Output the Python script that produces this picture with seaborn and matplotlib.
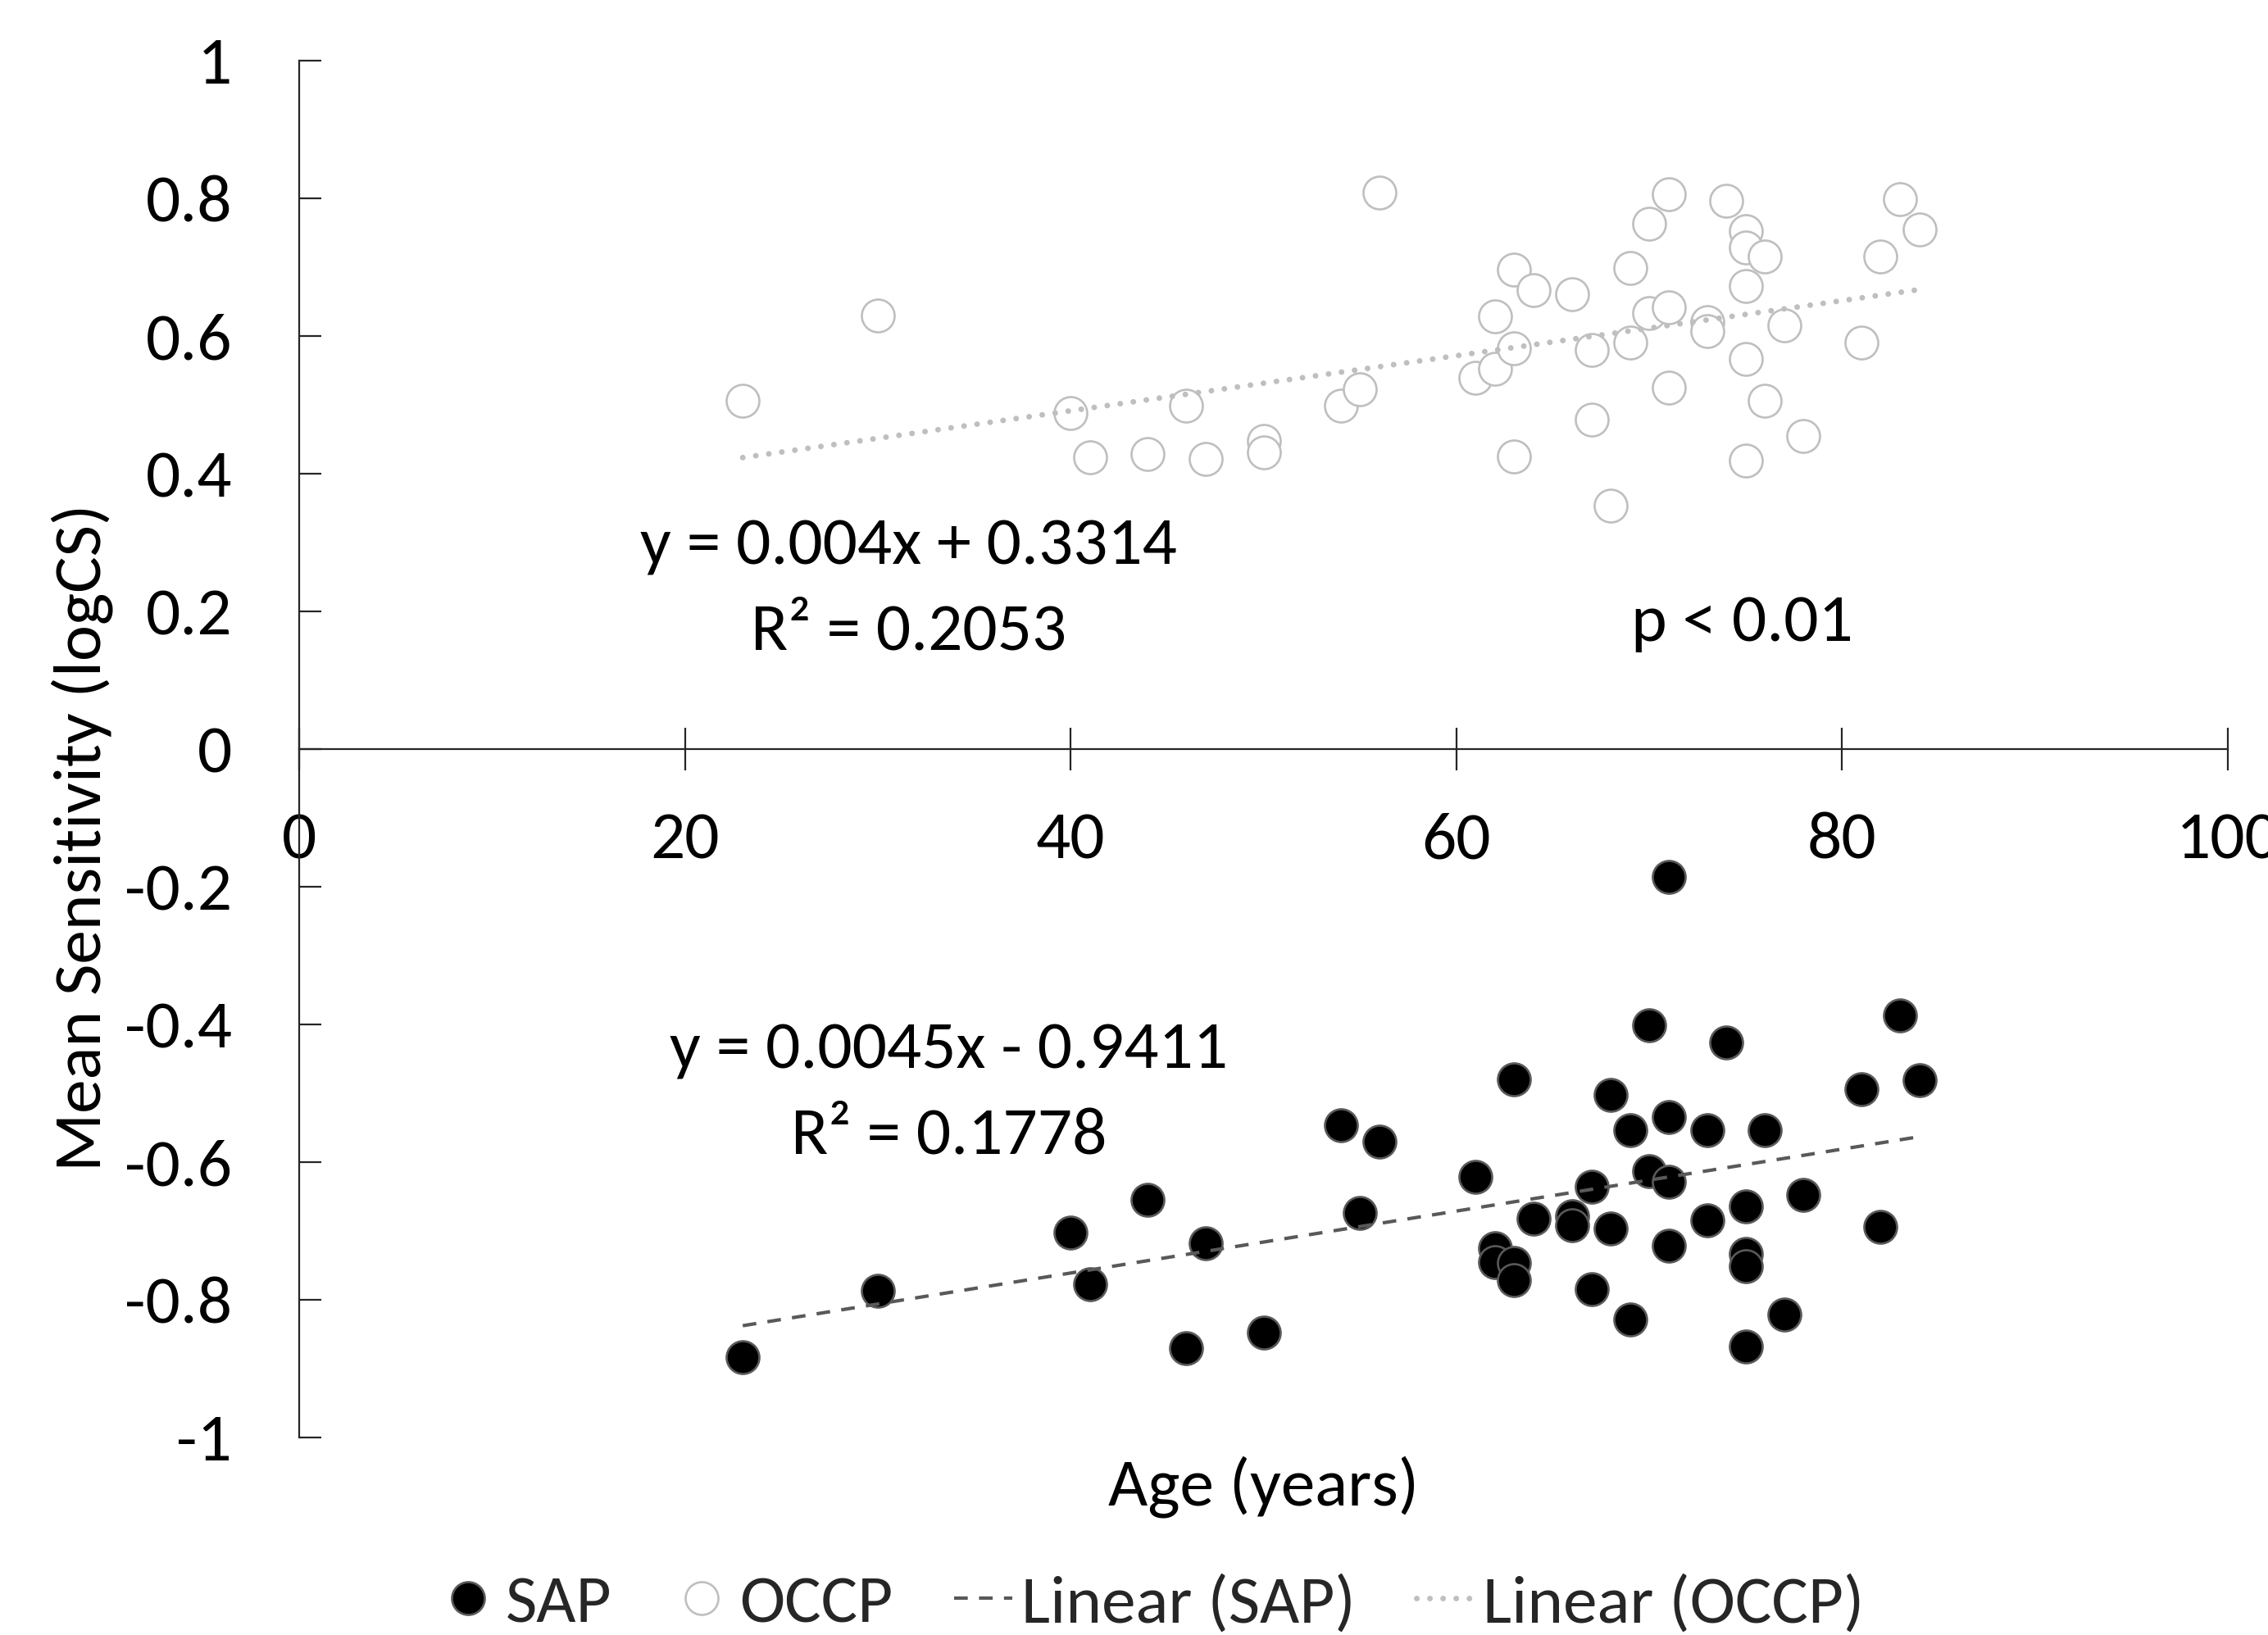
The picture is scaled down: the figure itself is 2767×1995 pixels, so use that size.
import numpy as np
import pandas as pd
import matplotlib
matplotlib.use("Agg")
import matplotlib.pyplot as plt
from matplotlib.lines import Line2D
from matplotlib import font_manager
import seaborn as sns

# ---------------- data ----------------
occp_age = [23, 30, 40, 41, 44, 46, 47, 50, 50, 54, 55, 56,
            61, 62, 62, 63, 63, 63, 64, 66, 67, 67, 68, 69, 69,
            70, 70, 71, 71, 71, 73, 73, 74, 75, 75, 75, 75, 75,
            76, 76, 77, 78, 81, 82, 83, 84]
occp_val = [0.506, 0.630, 0.488, 0.424, 0.429, 0.499, 0.421, 0.448, 0.431, 0.499, 0.523, 0.808,
            0.539, 0.628, 0.552, 0.696, 0.582, 0.425, 0.667, 0.661, 0.580, 0.478, 0.353, 0.699, 0.591,
            0.763, 0.633, 0.806, 0.642, 0.525, 0.620, 0.607, 0.796, 0.752, 0.729, 0.673, 0.567, 0.419,
            0.715, 0.506, 0.616, 0.455, 0.590, 0.715, 0.799, 0.755]

sap_age = [23, 30, 40, 41, 44, 46, 47, 50, 54, 55, 56,
           61, 62, 62, 63, 63, 63, 64, 66, 66, 67, 67, 68, 68, 69, 69,
           70, 70, 71, 71, 71, 71, 73, 73, 74, 75, 75, 75, 75,
           76, 77, 78, 81, 82, 83, 84]
sap_val = [-0.883, -0.787, -0.702, -0.777, -0.655, -0.870, -0.718, -0.848, -0.546, -0.674, -0.570,
           -0.622, -0.725, -0.745, -0.480, -0.747, -0.772, -0.682, -0.679, -0.692, -0.636, -0.784,
           -0.502, -0.696, -0.554, -0.829, -0.401, -0.613, -0.186, -0.534, -0.628, -0.722,
           -0.554, -0.685, -0.426, -0.664, -0.733, -0.751, -0.868,
           -0.554, -0.821, -0.648, -0.494, -0.694, -0.387, -0.481]

# trend line coefficients shown in the chart
occp_fit = [0.004, 0.3314]
sap_fit = [0.0045, -0.9411]
occp_eq = "y = 0.004x + 0.3314"
occp_r2 = "R\u00b2 = 0.2053"
sap_eq = "y = 0.0045x - 0.9411"
sap_r2 = "R\u00b2 = 0.1778"
p_text = "p < 0.01"

x_ticks = [0, 20, 40, 60, 80, 100]
y_ticks = [1, 0.8, 0.6, 0.4, 0.2, 0, -0.2, -0.4, -0.6, -0.8, -1]

series_names = ["SAP", "OCCP", "Linear (SAP)", "Linear (OCCP)"]

# ---------------- style ----------------
sns.set_theme(style="white")
names = {f.name for f in font_manager.fontManager.ttflist}
fam = "Carlito" if "Carlito" in names else "Lato"
plt.rcParams["font.family"] = [fam, "DejaVu Sans"]
plt.rcParams["axes.unicode_minus"] = False

FS = 60
DPI = 100
fig = plt.figure(figsize=(2767 / DPI, 1995 / DPI), dpi=DPI)
ax = fig.add_axes([365 / 2767, 241 / 1995, 2353 / 2767, 1680 / 1995])

df_occp = pd.DataFrame({"age": occp_age, "val": occp_val})
df_sap = pd.DataFrame({"age": sap_age, "val": sap_val})

MS = 28.8  # marker diameter in points
sns.scatterplot(data=df_occp, x="age", y="val", ax=ax, s=MS ** 2, marker="o",
                facecolor="white", edgecolor="#bfbfbf", linewidth=1.9, zorder=3, legend=False)
sns.scatterplot(data=df_sap, x="age", y="val", ax=ax, s=MS ** 2, marker="o",
                facecolor="black", edgecolor="#595959", linewidth=1.9, zorder=3, legend=False)

# trend lines
xo = np.array([min(occp_age), max(occp_age)])
xs = np.array([min(sap_age), max(sap_age)])
occp_line = pd.DataFrame({"age": xo, "val": np.polyval(occp_fit, xo)})
sap_line = pd.DataFrame({"age": xs, "val": np.polyval(sap_fit, xs)})

dot_style = dict(color="#bfbfbf", linewidth=5.0, dashes=(0.01, 2.3), dash_capstyle="round")
dash_style = dict(color="#595959", linewidth=3.0, dashes=(4.0, 3.3), dash_capstyle="butt")
sns.lineplot(data=occp_line, x="age", y="val", ax=ax, zorder=4, **dot_style)
sns.lineplot(data=sap_line, x="age", y="val", ax=ax, zorder=4, **dash_style)

# axes
ax.set_xlim(0, 100)
ax.set_ylim(-1, 1)
ax.spines["top"].set_visible(False)
ax.spines["right"].set_visible(False)
ax.spines["bottom"].set_position(("data", 0))
for sp in ("left", "bottom"):
    ax.spines[sp].set_color("#262626")
    ax.spines[sp].set_linewidth(1.6)
    ax.spines[sp].set_zorder(2)

ax.set_xticks(x_ticks)
ax.set_xticklabels([str(v) for v in x_ticks])
ax.set_yticks(y_ticks)
ax.set_yticklabels([f"{v:g}" for v in y_ticks])
ax.tick_params(axis="y", direction="in", length=19.5, width=1.6, color="#262626",
               pad=59, labelsize=FS, labelcolor="black", left=True)
ax.tick_params(axis="x", direction="inout", length=38, width=1.6, color="#262626",
               pad=36, labelsize=FS, labelcolor="black", bottom=True)

ax.set_xlabel("Age (years)", fontsize=FS, color="black")
ax.set_ylabel("Mean Sensitivity (logCS)", fontsize=FS, color="black")
ax.xaxis.set_label_coords(0.5, -0.0357)
ax.xaxis.label.set_va("center")
ax.yaxis.set_label_coords(-0.1126, 0.436)
ax.yaxis.label.set_va("center")
ax.yaxis.label.set_ha("center")

# annotations
ax.text(31.6, 0.269, occp_eq, fontsize=FS, ha="center", va="baseline", color="black")
ax.text(31.6, 0.145, occp_r2, fontsize=FS, ha="center", va="baseline", color="black")
ax.text(74.8, 0.157, p_text, fontsize=FS, ha="center", va="baseline", color="black")
ax.text(33.7, -0.464, sap_eq, fontsize=FS, ha="center", va="baseline", color="black")
ax.text(33.7, -0.588, sap_r2, fontsize=FS, ha="center", va="baseline", color="black")

# legend
handles = [
    Line2D([], [], linestyle="none", marker="o", markersize=MS, markerfacecolor="black",
           markeredgecolor="#595959", markeredgewidth=1.9),
    Line2D([], [], linestyle="none", marker="o", markersize=MS, markerfacecolor="white",
           markeredgecolor="#bfbfbf", markeredgewidth=1.9),
    Line2D([], [], **dash_style),
    Line2D([], [], **dot_style),
]
fig.legend(handles, series_names, loc="center", bbox_to_anchor=(0.5078, 0.019),
           ncol=4, frameon=False, fontsize=FS, handlelength=0.85, handletextpad=0.13,
           columnspacing=0.89, borderpad=0.2)

fig.savefig("out.png", dpi=DPI)
